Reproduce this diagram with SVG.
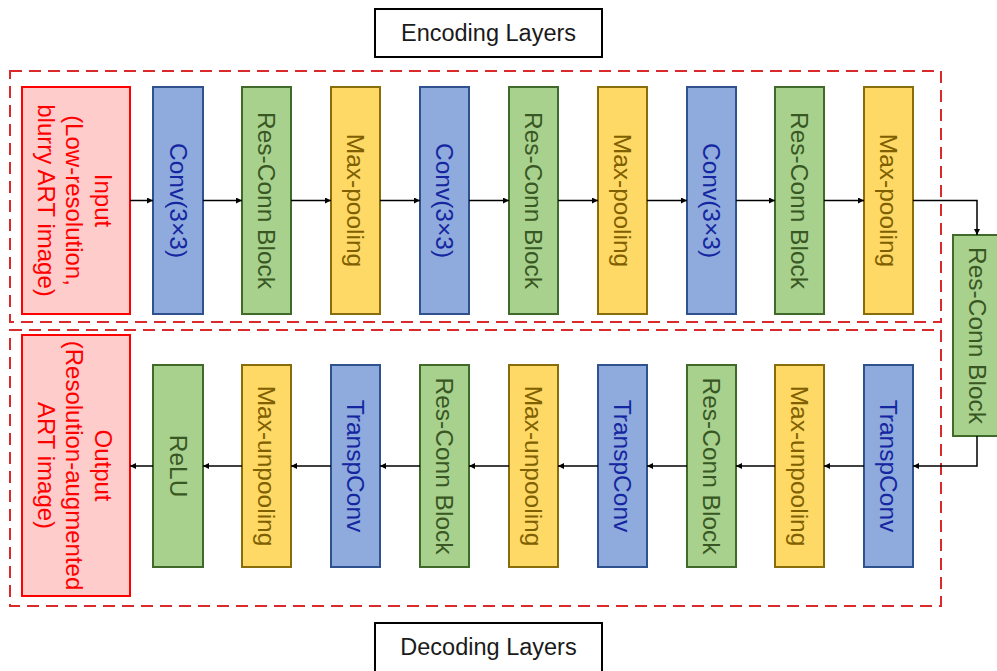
<svg xmlns="http://www.w3.org/2000/svg" width="997" height="671" viewBox="0 0 997 671">
<style>
text{font-family:"Liberation Sans",Arial,sans-serif;font-size:24.5px;text-anchor:middle;dominant-baseline:central}
.label text{font-size:23.5px;fill:#1a1a1a}
.blue rect{fill:#8faadc;stroke:#2f528f;stroke-width:2}
.blue text{fill:#1426a0}
.green rect{fill:#a9d18e;stroke:#3f6a2a;stroke-width:2}
.green text{fill:#385723}
.yellow rect{fill:#ffd966;stroke:#8a6d0b;stroke-width:2}
.yellow text{fill:#7f6000}
.io rect{fill:#ffcccc;stroke:#ff0000;stroke-width:2}
.io text{fill:#ff0000;font-size:24px}
.label rect{fill:#fff;stroke:#000;stroke-width:2}
.dash{fill:none;stroke:#d92b2b;stroke-width:2;stroke-dasharray:12 7}
.conn path{fill:none;stroke:#000;stroke-width:1.5;marker-end:url(#ah)}
</style>
<defs>
<marker id="ah" viewBox="0 0 10 10" refX="10" refY="5" markerWidth="6" markerHeight="6" markerUnits="userSpaceOnUse" orient="auto">
<path d="M0,0 L10,5 L0,10 z" fill="#000"/>
</marker>
</defs>
<rect width="997" height="671" fill="#fff"/>
<rect class="dash" x="10" y="71" width="931" height="251"/>
<rect class="dash" x="10" y="330" width="931" height="276"/>
<g id="enc-label" class="label"><rect x="375" y="9" width="227" height="48"/><text x="488.5" y="33">Encoding Layers</text></g>
<g id="dec-label" class="label"><rect x="375" y="623" width="227" height="60"/><text x="488.5" y="647">Decoding Layers</text></g>
<g id="input" class="io"><rect x="22" y="87" width="108" height="227"/>
<text transform="translate(75,200.5) rotate(90)"><tspan x="0" y="-29">Input</tspan><tspan x="0" y="0">(Low-resolution,</tspan><tspan x="0" y="28">blurry ART image)</tspan></text></g>
<g id="e1" class="blue"><rect x="153" y="87" width="50" height="227"/><text transform="translate(178,200.5) rotate(90)">Conv(3×3)</text></g>
<g id="e2" class="green"><rect x="242" y="87" width="49" height="227"/><text transform="translate(266.5,200.5) rotate(90)">Res-Conn Block</text></g>
<g id="e3" class="yellow"><rect x="331" y="87" width="49" height="227"/><text transform="translate(355.5,200.5) rotate(90)">Max-pooling</text></g>
<g id="e4" class="blue"><rect x="420" y="87" width="49" height="227"/><text transform="translate(444.5,200.5) rotate(90)">Conv(3×3)</text></g>
<g id="e5" class="green"><rect x="509" y="87" width="49" height="227"/><text transform="translate(533.5,200.5) rotate(90)">Res-Conn Block</text></g>
<g id="e6" class="yellow"><rect x="598" y="87" width="49" height="227"/><text transform="translate(622.5,200.5) rotate(90)">Max-pooling</text></g>
<g id="e7" class="blue"><rect x="687" y="87" width="49" height="227"/><text transform="translate(711.5,200.5) rotate(90)">Conv(3×3)</text></g>
<g id="e8" class="green"><rect x="775" y="87" width="49" height="227"/><text transform="translate(799.5,200.5) rotate(90)">Res-Conn Block</text></g>
<g id="e9" class="yellow"><rect x="864" y="87" width="49" height="227"/><text transform="translate(888.5,200.5) rotate(90)">Max-pooling</text></g>
<g id="bottleneck" class="green"><rect x="953" y="235" width="50" height="201"/><text transform="translate(977,335.5) rotate(90)">Res-Conn Block</text></g>
<g id="d1" class="blue"><rect x="864" y="365" width="49" height="202"/><text transform="translate(888.5,466) rotate(90)">TranspConv</text></g>
<g id="d2" class="yellow"><rect x="775" y="365" width="49" height="202"/><text transform="translate(799.5,466) rotate(90)">Max-unpooling</text></g>
<g id="d3" class="green"><rect x="687" y="365" width="49" height="202"/><text transform="translate(711.5,466) rotate(90)">Res-Conn Block</text></g>
<g id="d4" class="blue"><rect x="598" y="365" width="49" height="202"/><text transform="translate(622.5,466) rotate(90)">TranspConv</text></g>
<g id="d5" class="yellow"><rect x="509" y="365" width="49" height="202"/><text transform="translate(533.5,466) rotate(90)">Max-unpooling</text></g>
<g id="d6" class="green"><rect x="420" y="365" width="49" height="202"/><text transform="translate(444.5,466) rotate(90)">Res-Conn Block</text></g>
<g id="d7" class="blue"><rect x="331" y="365" width="49" height="202"/><text transform="translate(355.5,466) rotate(90)">TranspConv</text></g>
<g id="d8" class="yellow"><rect x="242" y="365" width="49" height="202"/><text transform="translate(266.5,466) rotate(90)">Max-unpooling</text></g>
<g id="d9" class="green"><rect x="153" y="365" width="50" height="202"/><text transform="translate(178,466) rotate(90)">ReLU</text></g>
<g id="output" class="io"><rect x="22" y="335" width="108" height="261"/>
<text transform="translate(75,465.5) rotate(90)"><tspan x="0" y="-29">Output</tspan><tspan x="0" y="0">(Resolution-augmented</tspan><tspan x="0" y="28">ART image)</tspan></text></g>
<g id="connectors" class="conn">
<path d="M130,200.5 H153"/>
<path d="M203,200.5 H242"/>
<path d="M291,200.5 H331"/>
<path d="M380,200.5 H420"/>
<path d="M469,200.5 H509"/>
<path d="M558,200.5 H598"/>
<path d="M647,200.5 H687"/>
<path d="M736,200.5 H775"/>
<path d="M824,200.5 H864"/>
<path d="M913,200.5 H977 V235"/>
<path d="M977,436 V466 H913"/>
<path d="M864,466 H824"/>
<path d="M775,466 H736"/>
<path d="M687,466 H647"/>
<path d="M598,466 H558"/>
<path d="M509,466 H469"/>
<path d="M420,466 H380"/>
<path d="M331,466 H291"/>
<path d="M242,466 H203"/>
<path d="M153,466 H130"/>
</g>
</svg>
